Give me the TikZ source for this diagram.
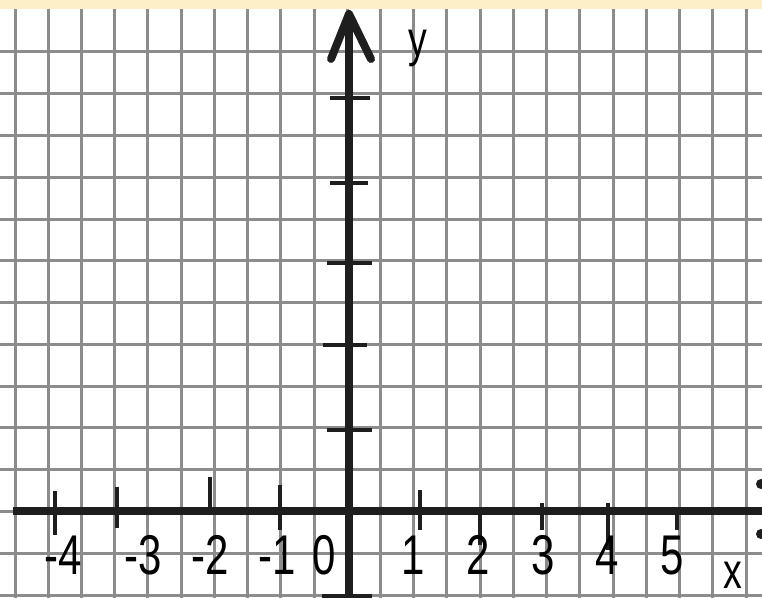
\documentclass[tikz,border=0pt]{standalone}
\usepackage{fontspec}
\setmainfont{Liberation Sans}
\definecolor{bandYellow}{RGB}{253,239,200}
\definecolor{gridGray}{RGB}{140,140,140}
\definecolor{axisBlack}{RGB}{30,30,30}

\tikzset{
  gridline/.style={gridGray, line width=1.5pt},
  axisline/.style={axisBlack, line width=3.8pt},
  tickline/.style={axisBlack, line width=1.8pt},
  numlabel/.style={anchor=base, inner sep=0pt, font=\fontsize{28}{30}\selectfont},
  letterlabel/.style={anchor=base, inner sep=0pt, font=\fontsize{25}{27}\selectfont},
}

\begin{document}
\begin{tikzpicture}[x=0.5pt, y=-0.5pt]
  \useasboundingbox (0,0) rectangle (762,598);
  \fill[white] (0,0) rectangle (762,598);
  \fill[bandYellow] (0,0) rectangle (762,9);

  % squared paper
  \begin{scope}
    \clip (0,9) rectangle (762,598);
    \foreach \k in {0,...,22}
      \draw[gridline] ({15+33.23*\k},9) -- ({15+33.23*\k},598);
    \foreach \k in {0,...,13}
      \draw[gridline] (0,{52+41.77*\k}) -- (762,{52+41.77*\k});
  \end{scope}

  % axes
  \coordinate (xstart) at (13,511);
  \coordinate (xend) at (775,511);
  \coordinate (ybot) at (349,600);
  \coordinate (ytip) at (349,14);
  \draw[axisline] (xstart) -- (xend);
  \draw[axisline] (ybot) -- (ytip);

  % open arrow head on the y axis
  \draw[axisline, line width=4pt, line cap=round, line join=round] (331,59) -- (ytip) -- (371,59);

  % ticks on the y axis
  \foreach \yy/\a/\b in {98/330/370, 183/330/368, 263/327/372, 345/323/367, 430/327/372, 596/322/372}
    \draw[tickline] (\a,\yy) -- (\b,\yy);

  % ticks on the x axis
  \foreach \xx/\a/\b in {55/491/535, 117/487/528, 210/477/508, 280/485/530, 420/490/530, 480/511/545, 542/503/530, 608/503/550, 677/511/530}
    \draw[tickline] (\xx,\a) -- (\xx,\b);

  % numbers
  \foreach \xx/\t [count=\i] in {63/-4, 143/-3, 210/-2, 277/-1, 324/0, 413/1, 478/2, 543/3, 607/4, 672/5}
    \node[numlabel] (num\i) at (\xx,575) {\scalebox{0.75}[1]{\t}};

  \node[letterlabel] (ylabel) at (418,57) {\scalebox{0.75}[1]{y}};
  \node[letterlabel] (xlabel) at (733,589) {\scalebox{0.75}[1]{x}};

  % dots at the right edge
  \fill[axisBlack] (761,484) circle[radius=2.5pt];
  \fill[axisBlack] (761,534) circle[radius=2.5pt];
\end{tikzpicture}
\end{document}
